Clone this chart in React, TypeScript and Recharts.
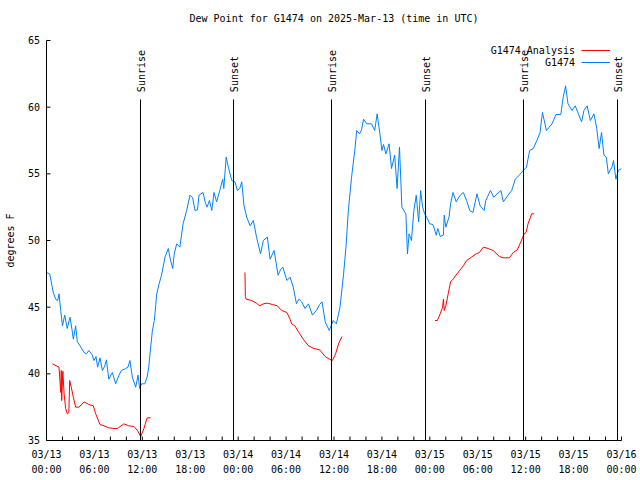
import React from 'react';
import { LineChart, Line, XAxis, YAxis, ReferenceLine, Legend } from 'recharts';

// ---- data (hours since 2025-03-13 00:00 UTC, dew point in °F) ----
const blueHours = [
  0.0, 0.4, 0.85, 1.15, 1.4, 1.57, 1.78, 2.0, 2.28, 2.6, 2.94, 3.2, 3.36, 3.65, 3.86, 4.2, 4.7, 5.0, 5.3, 5.7,
  5.95, 6.2, 6.4, 6.7, 7.0, 7.3, 7.5, 7.8, 8.25, 8.66, 9.08, 9.37, 9.9, 10.2, 10.45, 10.75, 11.17, 11.46, 11.67, 11.9,
  12.3, 12.6, 12.8, 12.96, 13.25, 13.5, 13.67, 13.8, 14.1, 14.4, 14.84, 15.25, 15.5, 15.8, 16.0, 16.3, 16.7, 17.1, 17.55, 17.97,
  18.3, 18.6, 18.9, 19.1, 19.6, 19.9, 20.1, 20.4, 20.7, 20.97, 21.3, 21.7, 22.06, 22.2, 22.5, 22.77, 23.2, 23.6, 23.9, 24.2,
  24.45, 24.73, 25.07, 25.5, 25.9, 26.3, 26.8, 27.15, 27.65, 28.0, 28.5, 29.0, 29.3, 29.6, 30.1, 30.5, 30.9, 31.3, 31.6, 31.95,
  32.37, 32.8, 33.3, 33.8, 34.2, 34.5, 34.9, 35.4, 35.9, 36.3, 36.75, 37.2, 37.5, 37.8, 38.2, 38.6, 38.85, 39.2, 39.45, 39.7,
  40.1, 40.7, 41.1, 41.4, 41.75, 42.0, 42.2, 42.5, 42.9, 43.2, 43.6, 43.9, 44.2, 44.5, 44.8, 45.0, 45.2, 45.4, 45.7, 46.0,
  46.3, 46.6, 46.85, 47.1, 47.35, 47.6, 48.0, 48.4, 48.8, 49.0, 49.3, 49.7, 49.8, 50.0, 50.4, 50.6, 50.9, 51.3, 51.8, 52.2,
  52.6, 53.0, 53.4, 53.9, 54.3, 54.8, 55.0, 55.6, 56.0, 56.9, 57.2, 57.8, 58.25, 58.7, 59.2, 59.7, 60.1, 60.5, 60.96, 61.4,
  61.8, 62.1, 62.6, 63.3, 63.8, 64.4, 64.7, 65.0, 65.3, 65.8, 66.2, 66.6, 67.0, 67.3, 67.7, 68.1, 68.55, 68.9, 69.2, 69.5,
  69.8, 70.1, 70.35, 70.8, 71.0, 71.3, 71.6, 72.0,
];
const blueDew = [
  47.6, 47.5, 46.1, 45.6, 45.5, 46.0, 44.75, 43.6, 44.4, 43.4, 44.25, 43.3, 42.6, 43.6, 42.4, 42.1, 41.6, 41.5, 41.75, 41.45,
  41.0, 41.3, 40.5, 41.2, 40.25, 40.6, 41.05, 39.6, 40.1, 39.25, 39.9, 40.25, 40.4, 40.5, 41.0, 39.75, 39.0, 39.9, 38.9, 39.25,
  39.25, 39.75, 40.5, 41.5, 43.2, 44.0, 45.1, 46.0, 46.75, 47.4, 48.75, 49.4, 48.6, 47.9, 49.0, 49.75, 49.5, 51.25, 52.25, 53.4,
  53.2, 52.25, 52.3, 53.4, 53.6, 52.8, 52.5, 53.0, 52.25, 53.6, 52.9, 53.75, 54.6, 53.9, 56.25, 55.5, 54.5, 54.4, 53.75, 53.9,
  54.4, 52.6, 51.75, 51.1, 51.5, 50.25, 49.0, 50.0, 50.25, 48.6, 49.25, 47.4, 47.8, 48.0, 47.0, 47.25, 46.5, 45.25, 45.6, 45.4,
  44.9, 45.25, 44.4, 44.75, 45.2, 45.4, 43.9, 43.25, 44.0, 43.75, 45.0, 47.5, 49.5, 52.3, 54.75, 56.75, 58.25, 58.0, 58.3, 59.1,
  58.75, 58.75, 58.25, 59.5, 58.0, 56.75, 57.2, 56.5, 57.25, 55.4, 56.4, 53.9, 57.0, 52.5, 52.2, 52.0, 49.0, 50.5, 50.0, 52.25,
  53.4, 51.4, 53.75, 52.5, 52.0, 51.75, 51.25, 51.2, 50.4, 50.9, 50.3, 50.4, 51.9, 51.0, 51.75, 52.75, 53.6, 52.9, 53.4, 53.6,
  53.0, 52.25, 52.1, 53.5, 52.6, 52.25, 53.0, 53.75, 53.25, 53.75, 52.9, 53.4, 53.75, 54.6, 54.9, 55.25, 55.5, 56.75, 56.9, 57.5,
  58.1, 59.6, 58.25, 58.75, 59.45, 59.45, 60.75, 61.6, 60.25, 59.75, 60.1, 59.5, 58.9, 59.75, 60.1, 59.0, 59.5, 58.4, 56.9, 58.1,
  56.4, 56.25, 55.0, 55.5, 56.0, 54.6, 55.25, 55.4,
];

const redHours = [
  0.73, 1.57, 1.78, 1.85, 1.9, 2.05, 2.2, 2.4, 2.6, 2.8, 2.9, 3.1, 3.36, 3.65, 4.07, 4.7, 5.3, 5.86, 6.16, 6.7,
  7.2, 7.8, 8.45, 8.87, 9.7, 10.3, 10.96, 11.4, 11.8, 12.2, 12.6, 13.05,
  18.0,
  24.85, 24.9, 25.0, 25.7, 26.3, 26.7, 27.15, 27.65, 28.3, 28.9, 29.45, 30.1, 30.5, 30.7, 31.1, 31.5, 32.2, 32.8, 33.5, 34.2,
  34.9, 35.4, 35.8, 36.2, 36.6, 37.0,
  42.0,
  48.65, 48.94, 49.3, 49.6, 49.7, 49.8, 50.0, 50.3, 50.6, 50.9, 51.4, 51.8, 52.2, 52.6, 53.2, 53.8, 54.2, 54.7, 55.3, 55.95,
  56.7, 57.2, 57.95, 58.45, 58.95, 59.4, 59.8, 60.05, 60.3, 60.75, 61.05,
];
const redDew: (number | null)[] = [
  40.75, 40.5, 38.6, 40.25, 38.0, 40.2, 38.5, 37.4, 37.0, 37.1, 39.5, 39.0, 38.25, 37.5, 37.5, 37.9, 37.7, 37.6, 37.0, 36.2,
  36.1, 35.95, 35.9, 35.9, 36.25, 36.1, 36.05, 35.75, 35.3, 35.9, 36.7, 36.7,
  null,
  47.6, 45.8, 45.6, 45.5, 45.3, 45.1, 45.25, 45.3, 45.2, 45.1, 44.75, 44.6, 44.1, 43.75, 43.6, 43.2, 42.55, 42.1, 41.9, 41.8,
  41.3, 41.1, 41.0, 41.5, 42.3, 42.8,
  null,
  44.0, 44.0, 44.5, 45.0, 45.6, 44.75, 45.1, 46.0, 46.9, 47.1, 47.5, 47.8, 48.1, 48.5, 48.75, 49.0, 49.1, 49.5, 49.4, 49.25,
  48.8, 48.7, 48.7, 49.1, 49.3, 49.9, 50.5, 50.6, 51.25, 52.0, 52.0,
];

const xTickHours = [0, 2, 4, 6, 8, 10, 12, 14, 16, 18, 20, 22, 24, 26, 28, 30, 32, 34, 36, 38, 40, 42, 44, 46, 48, 50, 52, 54, 56, 58, 60, 62, 64, 66, 68, 70, 72];
const xLabelHours = [0, 6, 12, 18, 24, 30, 36, 42, 48, 54, 60, 66, 72];
const xLabelDates = ['03/13', '03/13', '03/13', '03/13', '03/14', '03/14', '03/14', '03/14', '03/15', '03/15', '03/15', '03/15', '03/16'];
const xLabelTimes = ['00:00', '06:00', '12:00', '18:00', '00:00', '06:00', '12:00', '18:00', '00:00', '06:00', '12:00', '18:00', '00:00'];
const yTicks = [35, 40, 45, 50, 55, 60, 65];
const sunHours = [11.77, 23.42, 35.69, 47.46, 59.73, 71.5];
const sunNames = ['Sunrise', 'Sunset', 'Sunrise', 'Sunset', 'Sunrise', 'Sunset'];
const sunLineTopValue = 60.58;

const TITLE = 'Dew Point for G1474 on 2025-Mar-13 (time in UTC)';
const SERIES_ANALYSIS = 'G1474 Analysis';
const SERIES_OBS = 'G1474';
const RED = '#ff0000';
const BLUE = '#0080ff';
const FONT = '"DejaVu Sans Mono", monospace';

const blueData = blueHours.map((h, i) => ({ h, v: blueDew[i] }));
const redData = redHours.map((h, i) => ({ h, v: redDew[i] }));

const BottomTick = (props: any) => {
  const { x, y, payload } = props;
  const idx = xLabelHours.indexOf(payload.value);
  return (
    <g>
      <line x1={x} x2={x} y1={y} y2={y - 4} stroke="#000" strokeWidth={1} />
      {idx >= 0 && (
        <text x={x} y={y + 17.5} textAnchor="middle" fontSize={10} fontFamily={FONT} fill="#000">
          {xLabelDates[idx]}
        </text>
      )}
      {idx >= 0 && (
        <text x={x} y={y + 32.5} textAnchor="middle" fontSize={10} fontFamily={FONT} fill="#000">
          {xLabelTimes[idx]}
        </text>
      )}
    </g>
  );
};

const TopTick = (props: any) => {
  const { x, y } = props;
  return <line x1={x} x2={x} y1={y} y2={y + 4} stroke="#000" strokeWidth={1} />;
};

const LeftTick = (props: any) => {
  const { x, y, payload } = props;
  return (
    <g>
      <line x1={x} x2={x + 4} y1={y} y2={y} stroke="#000" strokeWidth={1} />
      <text x={x - 6.5} y={y + 3.6} textAnchor="end" fontSize={10} fontFamily={FONT} fill="#000">
        {payload.value}
      </text>
    </g>
  );
};

const RightTick = (props: any) => {
  const { x, y } = props;
  return <line x1={x} x2={x - 4} y1={y} y2={y} stroke="#000" strokeWidth={1} />;
};

const makeSunLabel = (name: string) => (props: any) => {
  const vb = props.viewBox || {};
  const tx = vb.x + 1;
  const ty = vb.y - 7.3;
  return (
    <text
      x={tx}
      y={ty}
      transform={`rotate(-90 ${tx} ${ty})`}
      textAnchor="start"
      dominantBaseline="central"
      fontSize={10}
      fontFamily={FONT}
      fill="#000"
    >
      {name}
    </text>
  );
};

const LegendContent = () => (
  <svg width={150} height={30} style={{ display: 'block', overflow: 'visible' }}>
    <text x={95} y={12.1} textAnchor="end" fontSize={10} fontFamily={FONT} fill="#000">{SERIES_ANALYSIS}</text>
    <line x1={101.5} x2={130} y1={8.5} y2={8.5} stroke={RED} strokeWidth={1} />
    <text x={95} y={24.1} textAnchor="end" fontSize={10} fontFamily={FONT} fill="#000">{SERIES_OBS}</text>
    <line x1={101.5} x2={130} y1={20.5} y2={20.5} stroke={BLUE} strokeWidth={1} />
  </svg>
);

const YLabel = (props: any) => {
  const vb = props.viewBox || { x: 0, y: 0, width: 0, height: 0 };
  const tx = vb.x + 9.5;
  const ty = vb.y + vb.height / 2;
  return (
    <text x={tx} y={ty} transform={`rotate(-90 ${tx} ${ty})`} textAnchor="middle" dominantBaseline="central" fontSize={10} fontFamily={FONT} fill="#000">
      degrees F
    </text>
  );
};

export default function App() {
  return (
    <div style={{ position: 'absolute', left: 0, top: 0, width: 640, height: 480, background: '#fff', fontFamily: FONT, fontSize: 10 }}>
      <div style={{ position: 'absolute', left: 0, top: 13, width: 668, textAlign: 'center', fontSize: 10, fontFamily: FONT, lineHeight: '12px', color: '#000' }}>
        {TITLE}
      </div>
      <LineChart width={640} height={480} margin={{ top: 40.5, right: 18.5, bottom: 0, left: 0.5 }}>
        <XAxis
          xAxisId={0}
          dataKey="h"
          type="number"
          domain={[0, 72]}
          ticks={xTickHours}
          interval={0}
          allowDataOverflow
          height={39.5}
          tickSize={0}
          tickMargin={0}
          tickLine={false}
          axisLine={{ stroke: '#000', strokeWidth: 1 }}
          tick={<BottomTick />}
        />
        <XAxis
          xAxisId="top"
          orientation="top"
          dataKey="h"
          type="number"
          domain={[0, 72]}
          ticks={xTickHours}
          interval={0}
          allowDataOverflow
          height={0}
          tickSize={0}
          tickMargin={0}
          tickLine={false}
          axisLine={{ stroke: '#000', strokeWidth: 1 }}
          tick={<TopTick />}
        />
        <YAxis
          yAxisId={0}
          type="number"
          domain={[35, 65]}
          ticks={yTicks}
          interval={0}
          allowDataOverflow
          width={46}
          tickSize={0}
          tickMargin={0}
          tickLine={false}
          axisLine={{ stroke: '#000', strokeWidth: 1 }}
          tick={<LeftTick />}
          label={{ content: YLabel }}
        />
        <YAxis
          yAxisId="right"
          orientation="right"
          type="number"
          domain={[35, 65]}
          ticks={yTicks}
          interval={0}
          allowDataOverflow
          width={0}
          tickSize={0}
          tickMargin={0}
          tickLine={false}
          axisLine={{ stroke: '#000', strokeWidth: 1 }}
          tick={<RightTick />}
        />
        <Legend
          layout="horizontal"
          verticalAlign="middle"
          align="center"
          content={<LegendContent />}
          wrapperStyle={{ position: 'absolute', left: 480, top: 42, width: 150, height: 30 }}
        />
        <Line
          data={redData}
          dataKey="v"
          name={SERIES_ANALYSIS}
          type="linear"
          stroke={RED}
          strokeWidth={1}
          dot={false}
          activeDot={false}
          connectNulls={false}
          isAnimationActive={false}
        />
        <Line
          data={blueData}
          dataKey="v"
          name={SERIES_OBS}
          type="linear"
          stroke={BLUE}
          strokeWidth={1}
          dot={false}
          activeDot={false}
          isAnimationActive={false}
        />
        {sunHours.map((h, i) => (
          <ReferenceLine
            key={i}
            segment={[{ x: h, y: 35 }, { x: h, y: sunLineTopValue }]}
            stroke="#000"
            strokeWidth={1}
            ifOverflow="visible"
            label={makeSunLabel(sunNames[i])}
          />
        ))}
      </LineChart>
    </div>
  );
}
